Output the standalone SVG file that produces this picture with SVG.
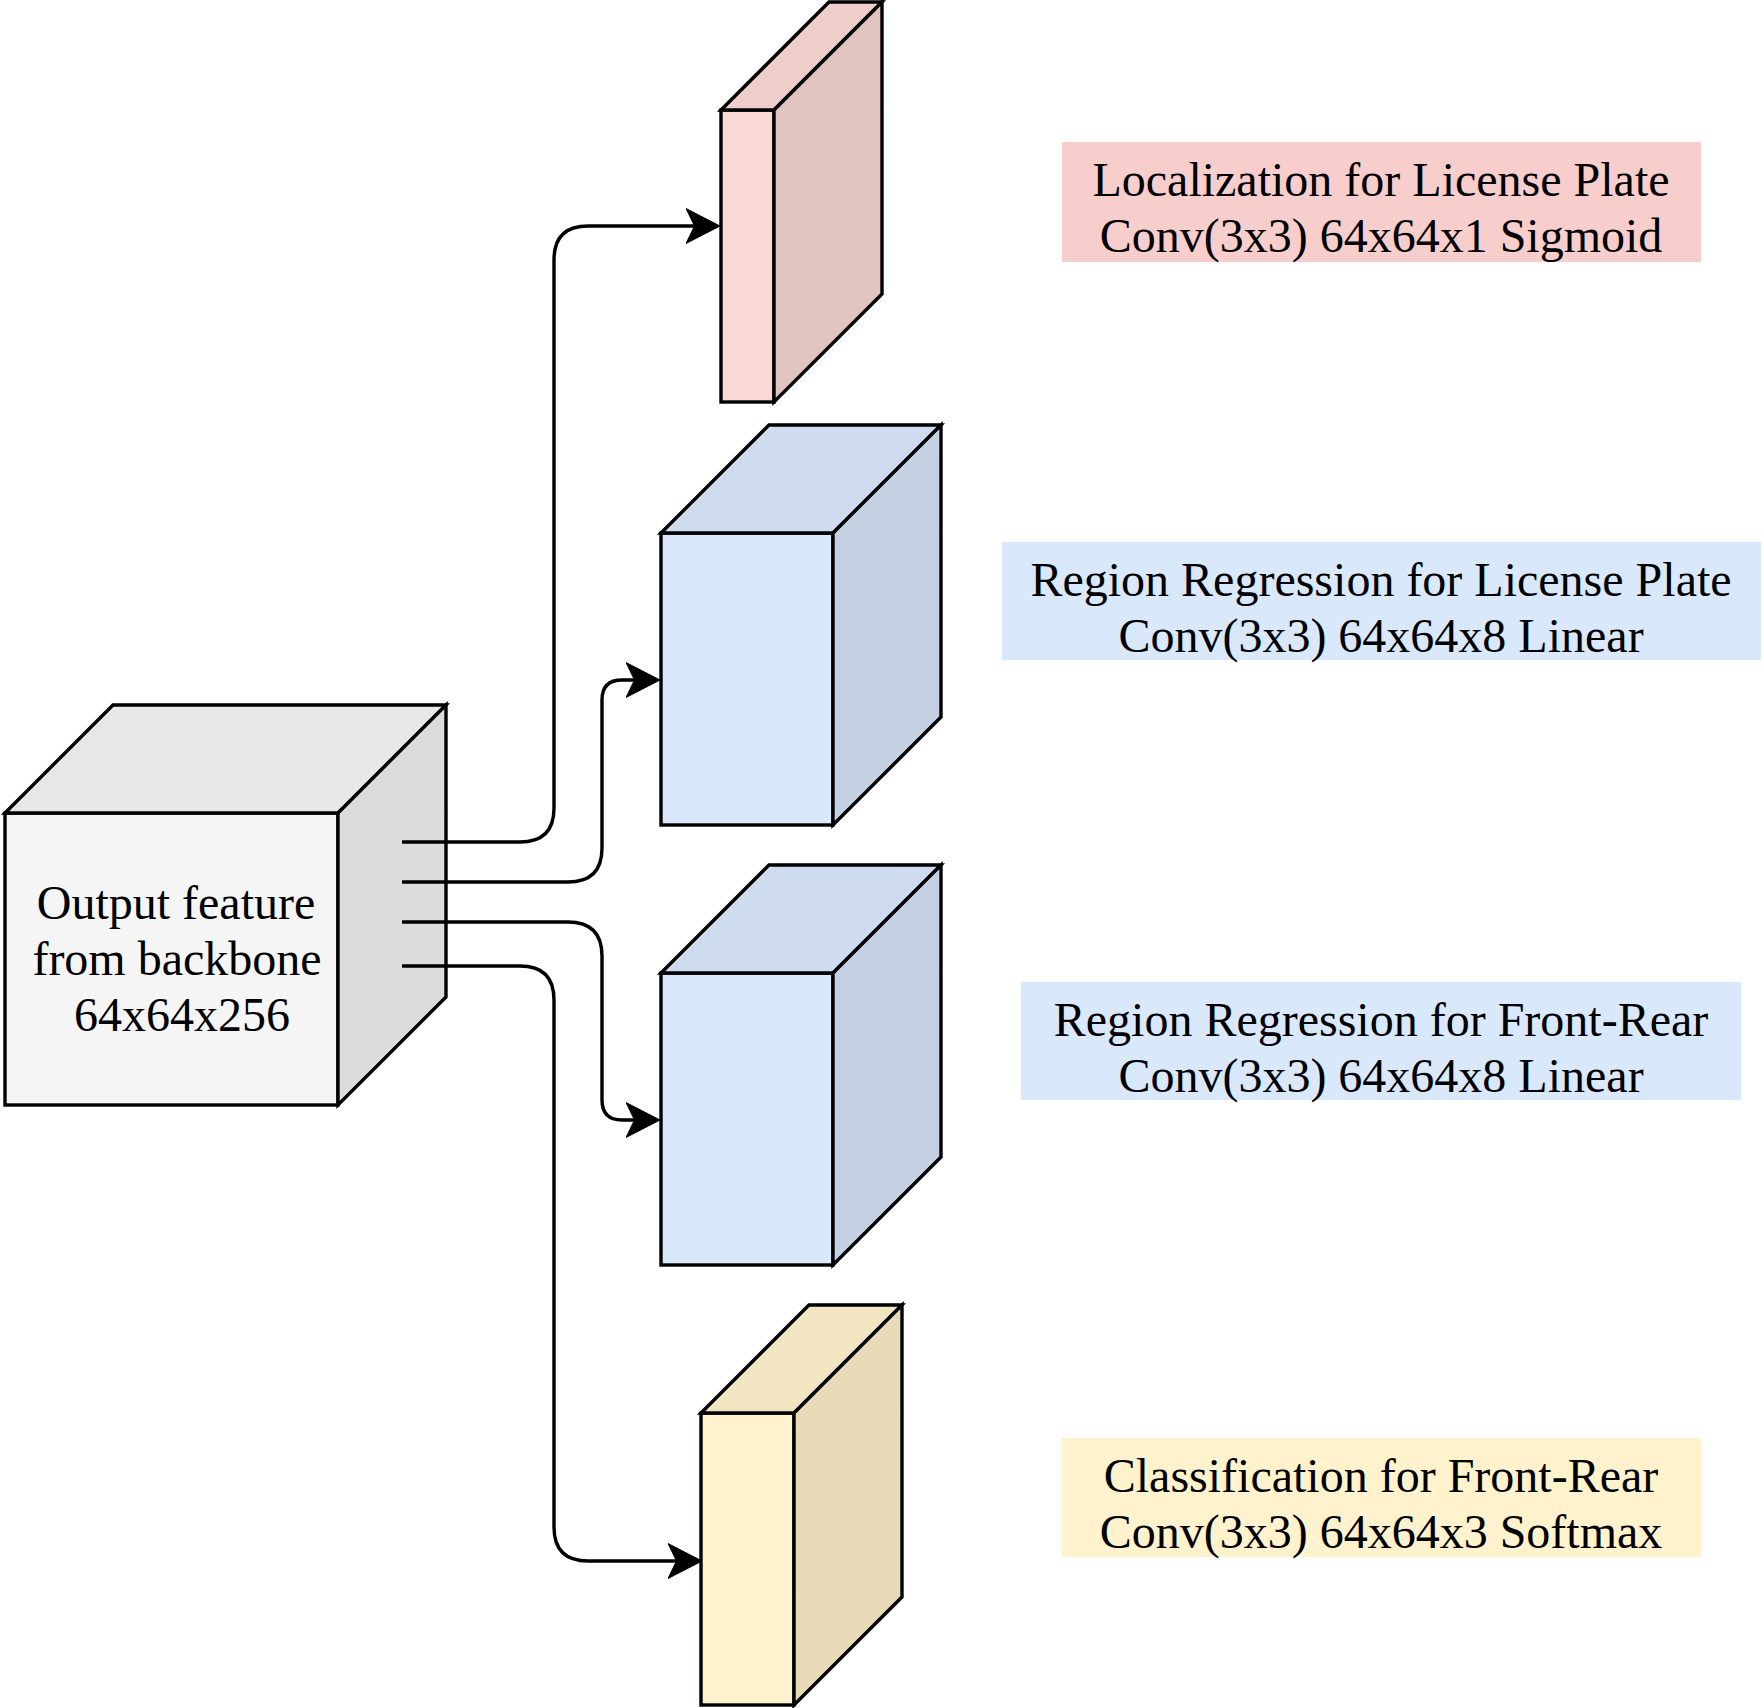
<svg xmlns="http://www.w3.org/2000/svg" width="1764" height="1708" viewBox="0 0 1764 1708">
<style>
.edge{fill:none;stroke:#000;stroke-width:3.4;marker-end:url(#arr)}
.cube rect,.cube polygon{stroke:#000;stroke-width:3.4;stroke-linejoin:miter}
.txt{font-family:"Liberation Serif","Times New Roman",serif;font-size:48px;fill:#000;stroke:none;text-anchor:middle}
</style>
<defs>
<marker id="arr" markerUnits="userSpaceOnUse" viewBox="0 0 36 36" refX="9" refY="18" markerWidth="36" markerHeight="36" orient="auto">
<path d="M34,18 L0,0.5 L8.5,18 L0,35.5 Z" fill="#000" stroke="#000" stroke-width="1"/>
</marker>
</defs>
<rect width="1764" height="1708" fill="#fff"/>

<g id="backbone" class="cube">
<rect x="5" y="813" width="333" height="292" fill="#f5f5f5"/>
<polygon points="5,813 113,705 446,705 338,813" fill="#e8e8e8"/>
<polygon points="338,813 446,705 446,997 338,1105" fill="#dcdcdc"/>
<text class="txt" x="176" y="919">Output feature</text>
<text class="txt" x="177" y="975">from backbone</text>
<text class="txt" x="182" y="1031">64x64x256</text>
</g>

<g id="loc-cube" class="cube">
<rect x="721" y="110" width="53" height="292" fill="#fad9d5"/>
<polygon points="721,110 829,2 882,2 774,110" fill="#eececb"/>
<polygon points="774,110 882,2 882,294 774,402" fill="#e1c3c0"/>
</g>

<g id="reg-lp-cube" class="cube">
<rect x="661" y="533" width="172" height="292" fill="#dae8fc"/>
<polygon points="661,533 769,425 941,425 833,533" fill="#cfdcf0"/>
<polygon points="833,533 941,425 941,717 833,825" fill="#c4d1e3"/>
</g>

<g id="reg-fr-cube" class="cube">
<rect x="661" y="973" width="172" height="292" fill="#dae8fc"/>
<polygon points="661,973 769,865 941,865 833,973" fill="#cfdcf0"/>
<polygon points="833,973 941,865 941,1157 833,1265" fill="#c4d1e3"/>
</g>

<g id="cls-cube" class="cube">
<rect x="701" y="1413" width="93" height="292" fill="#fff2cc"/>
<polygon points="701,1413 809,1305 902,1305 794,1413" fill="#f2e6c2"/>
<polygon points="794,1413 902,1305 902,1597 794,1705" fill="#e6dab8"/>
</g>

<g id="connectors">
<path class="edge" d="M402,842 H520 Q554,842 554,808 V260 Q554,226 588,226 H695"/>
<path class="edge" d="M402,882 H568 Q602,882 602,848 V700 Q602,680 622,680 H635"/>
<path class="edge" d="M402,922 H568 Q602,922 602,956 V1100 Q602,1120 622,1120 H635"/>
<path class="edge" d="M402,966 H520 Q554,966 554,1000 V1527 Q554,1561 588,1561 H677"/>
</g>

<g id="label-loc">
<rect x="1062" y="142" width="639" height="120" fill="#f8cecc"/>
<text class="txt" x="1381" y="196">Localization for License Plate</text>
<text class="txt" x="1381" y="252">Conv(3x3) 64x64x1 Sigmoid</text>
</g>

<g id="label-reg-lp">
<rect x="1002" y="542" width="759" height="118" fill="#dae8fc"/>
<text class="txt" x="1381" y="596">Region Regression for License Plate</text>
<text class="txt" x="1381" y="652">Conv(3x3) 64x64x8 Linear</text>
</g>

<g id="label-reg-fr">
<rect x="1021" y="982" width="720" height="118" fill="#dae8fc"/>
<text class="txt" x="1381" y="1036">Region Regression for Front-Rear</text>
<text class="txt" x="1381" y="1092">Conv(3x3) 64x64x8 Linear</text>
</g>

<g id="label-cls">
<rect x="1062" y="1438" width="639" height="119" fill="#fff2cc"/>
<text class="txt" x="1381" y="1492">Classification for Front-Rear</text>
<text class="txt" x="1381" y="1548">Conv(3x3) 64x64x3 Softmax</text>
</g>
</svg>
